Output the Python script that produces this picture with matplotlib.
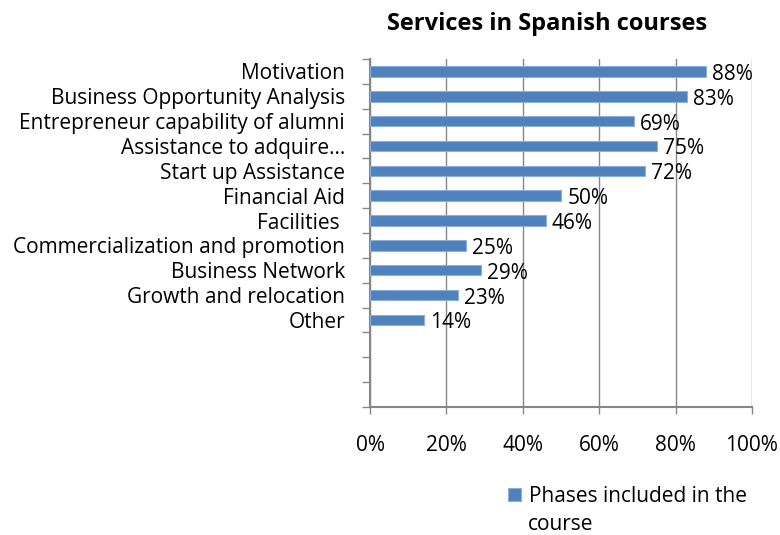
import matplotlib.pyplot as plt

# Data
categories = ['Motivation', 'Business Opportunity Analysis', 'Entrepreneur capability of alumni',
              'Assistance to adquire…', 'Start up Assistance', 'Financial Aid', 'Facilities ',
              'Commercialization and promotion', 'Business Network', 'Growth and relocation', 'Other']
values = [88, 83, 69, 75, 72, 50, 46, 25, 29, 23, 14]
n_slots = 14  # category slots on the axis (some empty at the bottom)

plt.rcParams['font.family'] = ['Open Sans', 'DejaVu Sans']
fs = 15

fig = plt.figure(figsize=(7.8, 5.35), dpi=100)
ax = fig.add_axes([0.4744, 0.2393, 0.4897, 0.6504])

pos = list(range(len(categories)))
ax.barh([p + 0.5 for p in pos], values, height=0.42, color='#4F81BD',
        edgecolor='#8DB0DA', linewidth=0.8, label='Phases included in the', zorder=3)

for p, v in zip(pos, values):
    ax.text(v + 1.6, p + 0.62, f'{v}%', va='center', ha='left', fontsize=fs, color='black')

ax.set_xlim(0, 100)
ax.set_ylim(n_slots, 0)
ax.set_xticks(range(0, 101, 20))
ax.set_xticklabels([f'{x}%' for x in range(0, 101, 20)], fontsize=fs)
ax.set_yticks(range(n_slots + 1))
ax.set_yticklabels([])
ax.set_yticks([p + 0.5 for p in pos], minor=True)
ax.set_yticklabels(categories, minor=True, fontsize=fs)
ax.tick_params(axis='y', which='minor', length=0, pad=18)
ax.tick_params(axis='y', which='major', length=6, color='#868686', width=1)
ax.tick_params(axis='x', length=5, color='#868686', width=1, pad=15)

ax.grid(axis='x', color='#868686', linewidth=1, zorder=0)
for side in ['top', 'right']:
    ax.spines[side].set_visible(False)
for side in ['left', 'bottom']:
    ax.spines[side].set_color('#868686')
    ax.spines[side].set_linewidth(1.5)

fig.suptitle('Services in Spanish courses', x=0.701, y=0.978, fontsize=17, fontweight='bold')
leg = fig.legend(loc='upper left', bbox_to_anchor=(0.641, 0.108), frameon=False, fontsize=fs,
                 handlelength=0.6, handleheight=0.6, handletextpad=0.4, borderaxespad=0)
# second line of the legend label, wrapped as in the original
fig.text(528 / 780, 1 - 524 / 535, 'course', fontsize=fs, ha='left', va='center')

fig.savefig('out.png', dpi=100)
